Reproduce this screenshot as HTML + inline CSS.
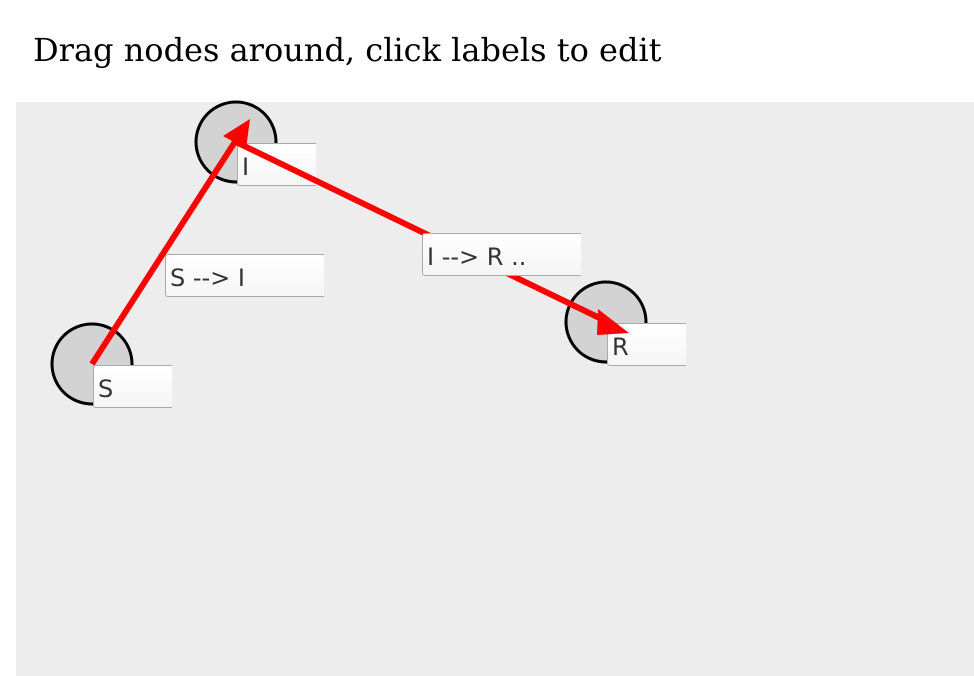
<!DOCTYPE html>
<html><head><style>
body{margin:0;width:974px;height:676px;background:#fff;overflow:hidden;position:relative;font-family:"DejaVu Serif","Liberation Serif",serif}
h1{position:absolute;left:33px;top:30px;margin:0;font-weight:normal;font-size:32px;line-height:40px;color:#000;white-space:nowrap}
.cv{position:absolute;left:16px;top:102px;width:958px;height:574px;background:#ededed}
.lb{position:absolute;height:43px;box-sizing:border-box;border:1px solid #aaa;border-right:none;border-radius:3px 0 0 3px;background:linear-gradient(#fff,#f5f5f5);font-family:"DejaVu Sans","Liberation Sans",sans-serif;font-size:24px;color:#333;padding:9px 0 0 4px;line-height:28px;white-space:nowrap}
svg{position:absolute;left:0;top:0}
</style></head><body>
<h1>Drag nodes around, click labels to edit</h1>
<div class="cv"></div>
<svg width="974" height="676">
<circle cx="92" cy="364" r="40" fill="#d3d3d3" stroke="#000" stroke-width="3"/>
<circle cx="236" cy="142" r="40" fill="#d3d3d3" stroke="#000" stroke-width="3"/>
<circle cx="606" cy="322" r="40" fill="#d3d3d3" stroke="#000" stroke-width="3"/>
</svg>
<div class="lb" style="left:93px;top:365px;width:79px">S</div>
<div class="lb" style="left:237px;top:143px;width:79px">I</div>
<div class="lb" style="left:607px;top:323px;width:79px">R</div>
<svg width="974" height="676">
<line x1="92" y1="364" x2="240" y2="134" stroke="red" stroke-width="6"/>
<polygon points="250,119 223,136 246,149" fill="red"/>
<line x1="236" y1="142" x2="612" y2="324" stroke="red" stroke-width="6"/>
<polygon points="629,333 598,309 597,335" fill="red"/>
</svg>
<div class="lb" style="left:165px;top:254px;width:159px">S --&gt; I</div>
<div class="lb" style="left:422px;top:233px;width:159px">I --&gt; R ..</div>
</body></html>
